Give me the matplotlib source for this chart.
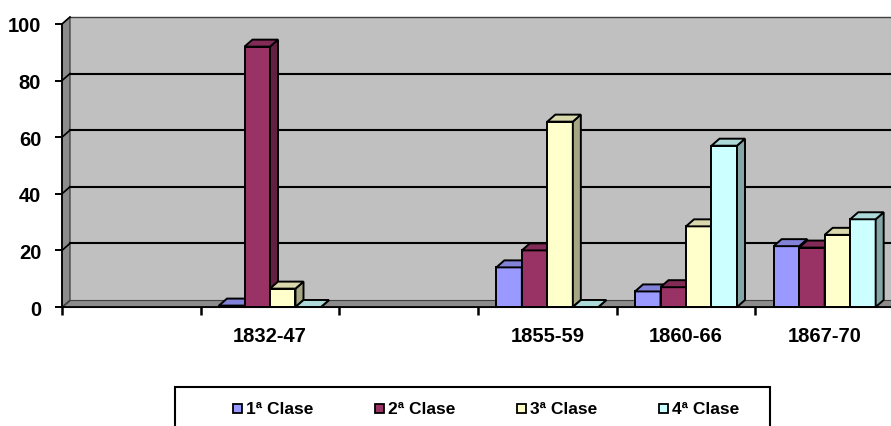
"""
Gráfico de barras 3D (estilo Excel) por clase y periodo
"""
import numpy as np
import matplotlib
matplotlib.use('Agg')
import matplotlib.pyplot as plt
from matplotlib.patches import Polygon, Rectangle

plt.rcParams['font.family'] = ['Liberation Sans', 'DejaVu Sans']
plt.rcParams['font.weight'] = 'bold'

# datos
categories = ['', '1832-47', '', '1855-59', '1860-66', '1867-70']
clase1 = [None, 0.5, None, 14, 5.5, 21.5]
clase2 = [None, 92, None, 20, 7, 21]
clase3 = [None, 6.5, None, 65.5, 28.5, 25.5]
clase4 = [None, 0, None, 0, 57, 31]
series_names = ['1ª Clase', '2ª Clase', '3ª Clase', '4ª Clase']
y_ticks = [0, 20, 40, 60, 80, 100]

colors = ['#9999FF', '#993366', '#FFFFCC', '#CCFFFF']


def shade(c, f):
    rgb = np.array(matplotlib.colors.to_rgb(c))
    return tuple(rgb * f)


W, H = 891, 427
fig = plt.figure(figsize=(W / 100, H / 100), dpi=100)
fig.patch.set_facecolor('white')

# ejes: x=-0.5 en 62 px, y=0 en 308 px, y=100 en 25 px
ax = fig.add_axes([62 / W, (H - 308) / H, 832 / W, 283 / H])
ax.set_xlim(-0.5, 5.5)
ax.set_ylim(0, 100)
ax.patch.set_visible(False)
for s in ['top', 'right']:
    ax.spines[s].set_visible(False)
ax.spines['left'].set_linewidth(1.3)
ax.spines['bottom'].set_linewidth(1.3)
ax.spines['left'].set_zorder(20)
ax.spines['bottom'].set_zorder(20)

# profundidad 3D
dx = 8 / 138.67
dy = 7 / 2.83

# pared del fondo
ax.add_patch(Rectangle((-0.5 + dx, dy), 6.2, 100, facecolor='#C0C0C0',
                       edgecolor='none', clip_on=False, zorder=0))
ax.plot([-0.5 + dx, 5.8], [100 + dy] * 2, color='#404040', lw=1,
        clip_on=False, zorder=1)
# pared izquierda
ax.add_patch(Polygon([(-0.5, 0), (-0.5 + dx, dy), (-0.5 + dx, 100 + dy), (-0.5, 100)],
                     closed=True, facecolor='#8C8C8C', edgecolor='#303030',
                     lw=0.8, clip_on=False, zorder=1))
# suelo
ax.add_patch(Polygon([(-0.5, 0), (5.8, 0), (5.8, dy), (-0.5 + dx, dy)],
                     closed=True, facecolor='#8C8C8C', edgecolor='#404040',
                     lw=0.8, clip_on=False, zorder=1))

# líneas de cuadrícula
for g in y_ticks[1:]:
    if g < 100:
        ax.plot([-0.5 + dx, 5.8], [g + dy] * 2, color='black', lw=1.5,
                clip_on=False, zorder=2)
    ax.plot([-0.5, -0.5 + dx], [g, g + dy], color='black', lw=1.2,
            clip_on=False, zorder=2)

# barras
w = 25.5 / 138.67
series = [clase1, clase2, clase3, clase4]
z = 3
for i in range(len(categories)):
    for j, vals in enumerate(series):
        v = vals[i]
        if v is None:
            continue
        x0 = i - 2 * w + j * w
        c = colors[j]
        ax.add_patch(Rectangle((x0, 0), w, v, facecolor=c, edgecolor='black',
                               lw=1.4, clip_on=False, zorder=z))
        ax.add_patch(Polygon([(x0 + w, 0), (x0 + w + dx, dy), (x0 + w + dx, v + dy), (x0 + w, v)],
                             closed=True, facecolor=shade(c, 0.65), edgecolor='black',
                             lw=1.4, clip_on=False, zorder=z))
        ax.add_patch(Polygon([(x0, v), (x0 + w, v), (x0 + w + dx, v + dy), (x0 + dx, v + dy)],
                             closed=True, facecolor=shade(c, 0.85), edgecolor='black',
                             lw=1.4, clip_on=False, zorder=z))
        z += 0.01

# ticks
ax.set_yticks(y_ticks)
ax.set_yticklabels([str(t) for t in y_ticks])
ax.tick_params(axis='y', direction='out', length=5, width=1.4, pad=10, labelsize=14.5)
ax.set_xticks(np.arange(-0.5, 5.0, 1))
ax.set_xticklabels([])
ax.tick_params(axis='x', which='major', direction='out', length=6, width=1.8)
ax.set_xticks(np.arange(len(categories)), minor=True)
ax.set_xticklabels(categories, minor=True)
ax.tick_params(axis='x', which='minor', length=0, pad=14, labelsize=14.5)

# leyenda
fig.add_artist(Rectangle((175 / W, 1 - 440 / H), (770 - 175) / W, (440 - 388) / H,
                         transform=fig.transFigure, fill=False, edgecolor='black', lw=1.5))
for j, name in enumerate(series_names):
    x = 233 + 142 * j
    fig.add_artist(Rectangle((x / W, 1 - 414 / H), 9 / W, 9 / H, transform=fig.transFigure,
                             facecolor=colors[j], edgecolor='black', lw=1.3))
    fig.text((x + 13) / W, 1 - 410 / H, name, va='center', ha='left', fontsize=12.5,
             fontweight='bold')

fig.savefig('out.png', dpi=100)
plt.close(fig)
